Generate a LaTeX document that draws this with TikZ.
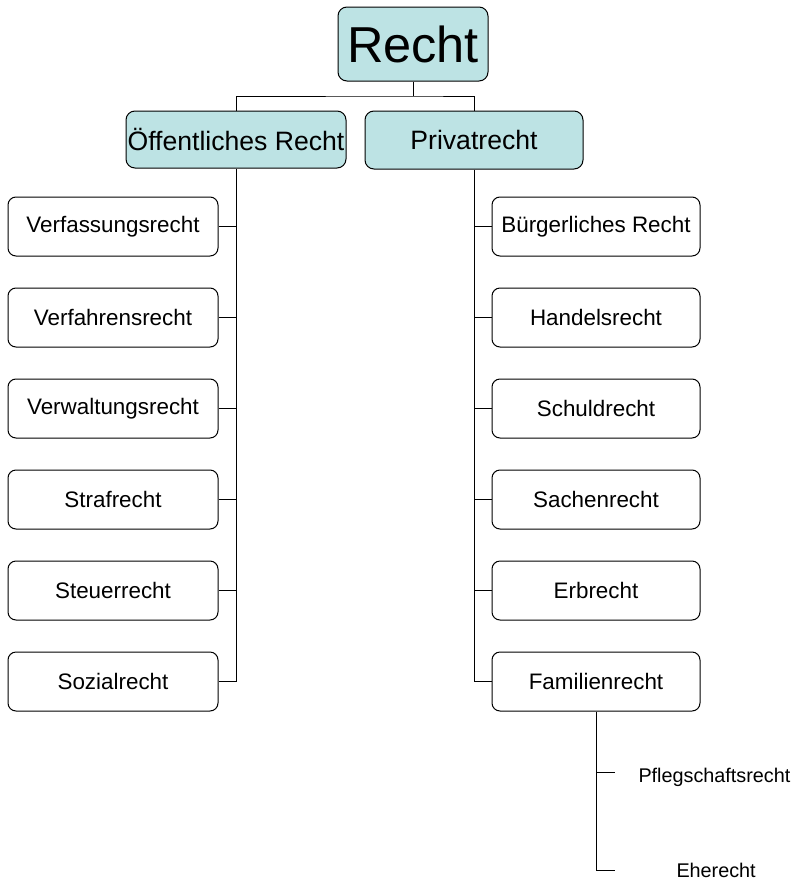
\documentclass[tikz,border=0pt]{standalone}
\usepackage{fontspec}
\setmainfont{Liberation Sans}
\usetikzlibrary{positioning}
\definecolor{rechtcyan}{RGB}{189,227,228}

\begin{document}
\begin{tikzpicture}[x=1pt, y=-1pt, line width=1pt,
  topnode/.style={rectangle, rounded corners=9pt, draw, fill=rechtcyan, inner sep=1pt},
  lawnode/.style={rectangle, rounded corners=8pt, draw, minimum height=59pt, inner sep=2pt, font=\fontsize{22.4}{26}\selectfont},
  subnode/.style={inner sep=0pt, anchor=base west, font=\fontsize{19.8}{23}\selectfont}]

  \useasboundingbox (0,0) rectangle (798,881);

  \node[topnode, minimum width=150pt, minimum height=74pt, font=\fontsize{50.5}{56}\selectfont] (recht) at (413,44) {Recht};
  \node[topnode, minimum width=220pt, minimum height=57pt, font=\fontsize{26.6}{30}\selectfont] (oeff) at (236,139.5) {Öffentliches Recht};
  \node[topnode, minimum width=218pt, minimum height=58pt, font=\fontsize{26.6}{30}\selectfont] (privat) at (474,140) {Privatrecht};

  % linke Spalte
  \node[lawnode, minimum width=210pt] (verfassung) at (113,226.5) {Verfassungsrecht};
  \node[lawnode, minimum width=210pt] (verfahren) [below=31pt of verfassung] {Verfahrensrecht};
  \node[lawnode, minimum width=210pt] (verwaltung) [below=31pt of verfahren] {Verwaltungsrecht};
  \node[lawnode, minimum width=210pt] (straf) [below=31pt of verwaltung] {Strafrecht};
  \node[lawnode, minimum width=210pt] (steuer) [below=31pt of straf] {Steuerrecht};
  \node[lawnode, minimum width=210pt] (sozial) [below=31pt of steuer] {Sozialrecht};

  % rechte Spalte
  \node[lawnode, minimum width=208pt] (buergerlich) at (596,226.5) {Bürgerliches Recht};
  \node[lawnode, minimum width=208pt] (handel) [below=31pt of buergerlich] {Handelsrecht};
  \node[lawnode, minimum width=208pt] (schuld) [below=31pt of handel] {Schuldrecht};
  \node[lawnode, minimum width=208pt] (sachen) [below=31pt of schuld] {Sachenrecht};
  \node[lawnode, minimum width=208pt] (erb) [below=31pt of sachen] {Erbrecht};
  \node[lawnode, minimum width=208pt] (familie) [below=31pt of erb] {Familienrecht};

  \node[subnode] (pflege) at (638,782) {Pflegschaftsrecht};
  \node[subnode] (ehe) at (676,877) {Eherecht};

  \coordinate (split) at (413,96);
  \coordinate (pflegetick) at (615,772);
  \coordinate (ehetick) at (615,870);

  \draw (recht.south) -- (split);
  \draw (oeff.north) |- (split) -| (privat.north);

  \draw (oeff.south) |- (sozial.east);
  \foreach \n in {verfassung,verfahren,verwaltung,straf,steuer}
    \draw (\n.east) -- (\n.east -| oeff.south);

  \draw (privat.south) |- (familie.west);
  \foreach \n in {buergerlich,handel,schuld,sachen,erb}
    \draw (\n.west) -- (\n.west -| privat.south);

  \draw (familie.south) |- (ehetick);
  \draw (familie.south |- pflegetick) -- (pflegetick);

\end{tikzpicture}
\end{document}
